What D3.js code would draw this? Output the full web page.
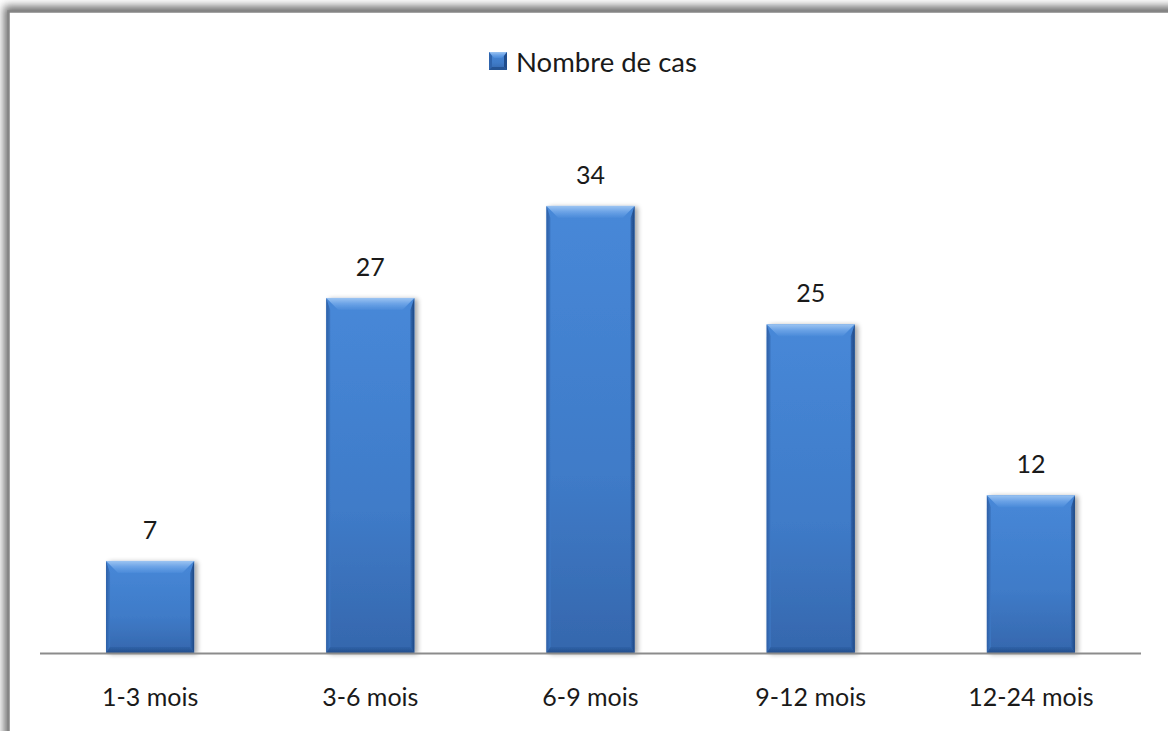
<!DOCTYPE html>
<html>
<head>
<meta charset="utf-8">
<script src="https://cdn.jsdelivr.net/npm/d3@7"></script>
<style>
  html, body { margin: 0; padding: 0; background: #ffffff; }
  svg { display: block; }
  text { font-family: Lato, "Open Sans", "DejaVu Sans", sans-serif; fill: #1a1a1a; }
</style>
</head>
<body>
<svg id="chart" width="1168" height="731"></svg>
<script>
// Number of cases by age group
const categories = ["1-3 mois", "3-6 mois", "6-9 mois", "9-12 mois", "12-24 mois"];
const values = [7, 27, 34, 25, 12];
const seriesName = "Nombre de cas";
const yDomain = [0, 40];

const W = 1168, H = 731;
const svg = d3.select("#chart");
const defs = svg.append("defs");

// Frame shadow
const fs = defs.append("filter").attr("id", "frameShadow")
  .attr("x", "-5%").attr("y", "-5%").attr("width", "110%").attr("height", "110%");
fs.append("feGaussianBlur").attr("stdDeviation", 4);

// Bar drop shadow
const bs = defs.append("filter").attr("id", "barShadow")
  .attr("x", "-20%").attr("y", "-10%").attr("width", "140%").attr("height", "120%");
bs.append("feGaussianBlur").attr("in", "SourceAlpha").attr("stdDeviation", 2.5).attr("result", "b");
bs.append("feOffset").attr("in", "b").attr("dx", 3).attr("dy", 1).attr("result", "o");
bs.append("feComponentTransfer").attr("in", "o").attr("result", "s")
  .append("feFuncA").attr("type", "linear").attr("slope", 0.35);
const bm = bs.append("feMerge");
bm.append("feMergeNode").attr("in", "s");
bm.append("feMergeNode").attr("in", "SourceGraphic");

// Gradients for the bevelled bar faces
function lin(id, x1, y1, x2, y2, stops) {
  const g = defs.append("linearGradient").attr("id", id)
    .attr("x1", x1).attr("y1", y1).attr("x2", x2).attr("y2", y2);
  stops.forEach(([o, c]) => g.append("stop").attr("offset", o).attr("stop-color", c));
}
lin("face", "0", "0", "0", "1", [["0", "#4788d8"], ["0.6", "#3f7bc8"], ["1", "#3567ad"]]);
lin("topBevel", "0", "0", "0", "1", [["0", "#9cc4f2"], ["0.5", "#6aa2e6"], ["1", "#4a8ad9"]]);
lin("leftBevel", "0", "0", "1", "0", [["0", "#2d5fa6"], ["1", "#3d78c4"]]);
lin("rightBevel", "0", "0", "1", "0", [["0", "#3267b0"], ["1", "#1f4884"]]);
lin("bottomBevel", "0", "0", "0", "1", [["0", "#3063a8"], ["1", "#234e8c"]]);

// Chart frame with soft shadow
svg.append("rect").attr("x", 4).attr("y", 6).attr("width", W + 40).attr("height", H + 40)
  .attr("fill", "#6e6e6e").attr("filter", "url(#frameShadow)");
svg.append("rect").attr("x", 8.5).attr("y", 11.5).attr("width", W + 40).attr("height", H + 40)
  .attr("fill", "#ffffff").attr("stroke", "#858585").attr("stroke-width", 2.5);

// Scales
const x = d3.scaleBand().domain(categories).range([40, 1141]).paddingInner(0.6).paddingOuter(0.3);
const y = d3.scaleLinear().domain(yDomain).range([653, 127]);

// Bars
const bev = 12, side = 4, bot = 6;
const bars = svg.append("g").selectAll("g").data(values).join("g")
  .attr("filter", "url(#barShadow)");
bars.each(function(v, i) {
  const g = d3.select(this);
  const x0 = x(categories[i]), x1 = x0 + x.bandwidth();
  const y0 = y(v), y1 = y(0);
  g.append("rect").attr("x", x0).attr("y", y0).attr("width", x1 - x0).attr("height", y1 - y0)
    .attr("fill", "url(#face)");
  // left side
  g.append("polygon").attr("points", [[x0, y0], [x0 + side, y0 + bev], [x0 + side, y1 - bot], [x0, y1]].join(" "))
    .attr("fill", "url(#leftBevel)");
  // right side
  g.append("polygon").attr("points", [[x1, y0], [x1 - side, y0 + bev], [x1 - side, y1 - bot], [x1, y1]].join(" "))
    .attr("fill", "url(#rightBevel)");
  // bottom edge
  g.append("polygon").attr("points", [[x0, y1], [x0 + side, y1 - bot], [x1 - side, y1 - bot], [x1, y1]].join(" "))
    .attr("fill", "url(#bottomBevel)");
  // top bevel
  g.append("polygon").attr("points", [[x0, y0], [x1, y0], [x1 - 12, y0 + bev], [x0 + 12, y0 + bev]].join(" "))
    .attr("fill", "url(#topBevel)");
});

// Category axis line
svg.append("line").attr("x1", 40).attr("x2", 1141).attr("y1", 653.5).attr("y2", 653.5)
  .attr("stroke", "#8c8c8c").attr("stroke-width", 2);

// Category labels
svg.append("g").selectAll("text").data(categories).join("text")
  .attr("x", d => x(d) + x.bandwidth() / 2)
  .attr("y", 706)
  .attr("text-anchor", "middle")
  .attr("font-size", 25)
  .text(d => d);

// Value labels
svg.append("g").selectAll("text").data(values).join("text")
  .attr("x", (d, i) => x(categories[i]) + x.bandwidth() / 2)
  .attr("y", d => y(d) - 22)
  .attr("text-anchor", "middle")
  .attr("font-size", 25)
  .text(d => d);

// Legend
const lg = svg.append("g").attr("transform", "translate(489,52)");
lg.append("rect").attr("width", 18).attr("height", 18).attr("fill", "url(#face)");
lg.append("polygon").attr("points", "0,0 18,0 13,6 5,6").attr("fill", "url(#topBevel)");
lg.append("polygon").attr("points", "0,0 3,4 3,15 0,18").attr("fill", "#2f64ad");
lg.append("polygon").attr("points", "18,0 15,4 15,15 18,18").attr("fill", "#1f4c8c");
lg.append("polygon").attr("points", "0,18 3,15 15,15 18,18").attr("fill", "#255494");
lg.append("text").attr("x", 27).attr("y", 20).attr("font-size", 27.5).text(seriesName);
</script>
</body>
</html>
